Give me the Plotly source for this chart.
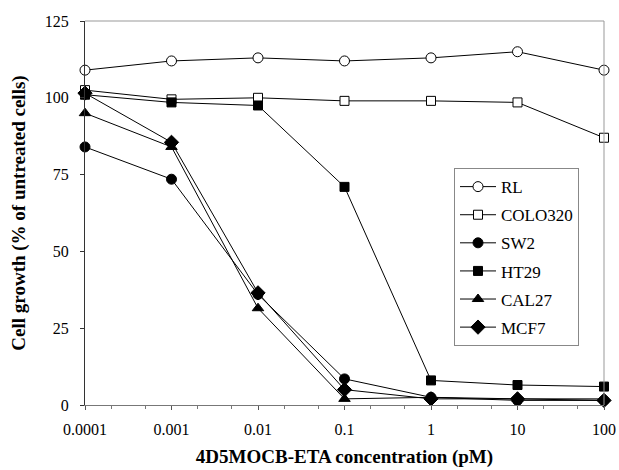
import plotly.graph_objects as go

conc = [0.0001, 0.001, 0.01, 0.1, 1, 10, 100]
tick_labels = ["0.0001", "0.001", "0.01", "0.1", "1", "10", "100"]
rl = [109, 112, 113, 112, 113, 115, 109]
colo320 = [102.5, 99.5, 100, 99, 99, 98.5, 87]
sw2 = [84, 73.5, 36, 8.5, 2.5, 1.5, 1.5]
ht29 = [101, 98.5, 97.5, 71, 8, 6.5, 6]
cal27 = [95, 84, 31.5, 2, 2.5, 2, 2]
mcf7 = [101.5, 85.5, 36.5, 5, 2, 2, 1.5]

series = [
    ("RL", rl, "circle", "white", 10),
    ("COLO320", colo320, "square", "white", 9),
    ("SW2", sw2, "circle", "black", 10),
    ("HT29", ht29, "square", "black", 9),
    ("CAL27", cal27, "triangle-up", "black", 10),
    ("MCF7", mcf7, "diamond", "black", 11),
]

FF = "Liberation Serif"
fig = go.Figure()
for name, vals, sym, fill, sz in series:
    fig.add_trace(go.Scatter(
        x=conc, y=vals, name=name, legendgroup=name, mode="lines+markers",
        line=dict(color="black", width=1),
        marker=dict(symbol=sym, size=sz, color=fill,
                    line=dict(color="black", width=1)),
        cliponaxis=False,
    ))

fig.update_layout(
    width=619, height=470,
    margin=dict(l=85, r=15, t=21, b=65),
    paper_bgcolor="white", plot_bgcolor="white",
    font=dict(family=FF, size=16, color="black"),
    showlegend=True,
    legend=dict(x=0.711, y=0.617, xanchor="left", yanchor="top",
                bordercolor="#888888", borderwidth=1, bgcolor="white",
                font=dict(family=FF, size=17), tracegroupgap=3, itemwidth=36),
    xaxis=dict(
        type="log", range=[-4, 2], automargin=False,
        tickvals=conc, ticktext=tick_labels,
        showgrid=False, zeroline=False,
        showline=True, linecolor="#777777", linewidth=1, mirror=False,
        ticks="outside", ticklen=4, tickcolor="#555555",
        ticklabelstandoff=6,
        minor=dict(ticks="outside", ticklen=3, tickcolor="#777777", showgrid=False),
        title=dict(text="<b>4D5MOCB-ETA concentration (pM)</b>", font=dict(family=FF, size=19), standoff=12),
        tickfont=dict(family=FF, size=16),
    ),
    yaxis=dict(
        range=[0, 125], tickvals=[0, 25, 50, 75, 100, 125], automargin=False,
        showgrid=False, zeroline=False,
        showline=True, linecolor="#333333", linewidth=1,
        ticks="outside", ticklen=4, tickcolor="#333333",
        ticklabelstandoff=8,
        title=dict(text="<b>Cell growth (% of untreated cells)</b>", font=dict(family=FF, size=19), standoff=14),
        tickfont=dict(family=FF, size=16),
    ),
)
fig.add_shape(type="line", xref="paper", yref="paper", x0=0, x1=1, y0=1, y1=1,
              line=dict(color="#999999", width=1))
fig.add_shape(type="line", xref="paper", yref="paper", x0=1, x1=1, y0=0, y1=1,
              line=dict(color="#999999", width=1))

fig.write_html("out.html")
